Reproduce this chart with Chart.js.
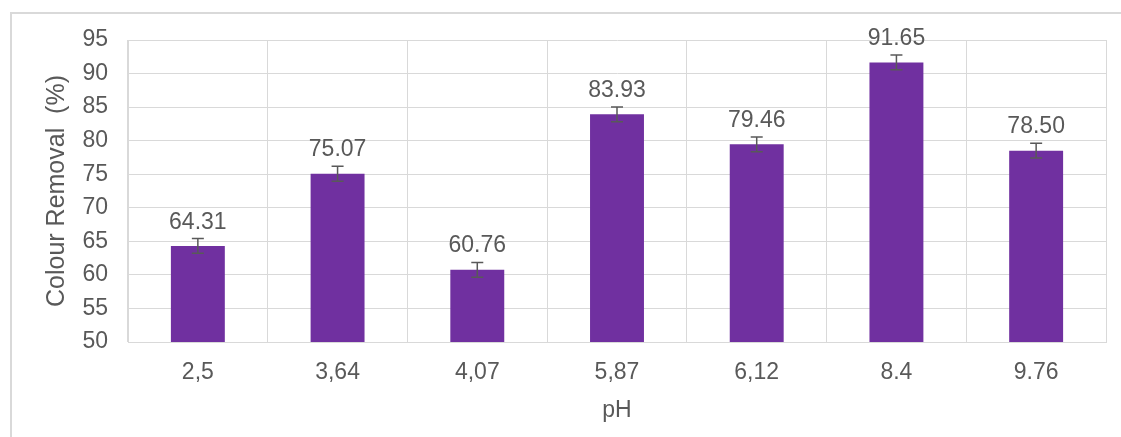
<!DOCTYPE html>
<html>
<head>
<meta charset="utf-8">
<script src="https://cdn.jsdelivr.net/npm/chart.js@4/dist/chart.umd.min.js"></script>
<style>
  html, body { margin: 0; padding: 0; background: #fff; overflow: hidden; }
  #wrap { position: relative; width: 1121px; height: 437px; }
  #frame { position: absolute; left: 10px; top: 12px; width: 1200px; height: 500px; border: 2px solid #d9d9d9; box-sizing: border-box; }
  #chart { position: absolute; left: 0; top: 0; }
</style>
</head>
<body>
<div id="wrap">
  <div id="frame"></div>
  <canvas id="chart" width="1121" height="437"></canvas>
</div>
<script>
// Data
const phLabels = ['2,5', '3,64', '4,07', '5,87', '6,12', '8.4', '9.76'];
const removal = [64.31, 75.07, 60.76, 83.93, 79.46, 91.65, 78.50];
const errors = [1.1, 1.1, 1.1, 1.1, 1.1, 1.1, 1.1];

const textColor = '#595959';
const gridColor = '#d9d9d9';
const fontFamily = '"Liberation Sans", Arial, sans-serif';
const fontSize = 23;

// Error bars + value labels drawn on top of the bars
const errorBarPlugin = {
    id: 'errorBars',
    afterDatasetsDraw(chart) {
        const ctx = chart.ctx;
        const meta = chart.getDatasetMeta(0);
        const y = chart.scales.y;
        ctx.save();
        meta.data.forEach(function(bar, i) {
            const x = bar.x;
            const top = y.getPixelForValue(removal[i] + errors[i]);
            const bottom = y.getPixelForValue(removal[i] - errors[i]);
            ctx.strokeStyle = '#595959';
            ctx.lineWidth = 1.5;
            ctx.beginPath();
            ctx.moveTo(x, top); ctx.lineTo(x, bottom);
            ctx.moveTo(x - 6, top); ctx.lineTo(x + 6, top);
            ctx.moveTo(x - 6, bottom); ctx.lineTo(x + 6, bottom);
            ctx.stroke();

            ctx.fillStyle = textColor;
            ctx.font = fontSize + 'px ' + fontFamily;
            ctx.textAlign = 'center';
            ctx.textBaseline = 'alphabetic';
            ctx.fillText(removal[i].toFixed(2), x, top - 10);
        });
        ctx.restore();
    }
};

const ctx = document.getElementById('chart').getContext('2d');
const removalChart = new Chart(ctx, {
    type: 'bar',
    data: {
        labels: phLabels,
        datasets: [{
            label: 'Colour Removal',
            data: removal,
            backgroundColor: '#7030A0',
            borderWidth: 0,
            barPercentage: 0.386,
            categoryPercentage: 1
        }]
    },
    options: {
        responsive: false,
        animation: false,
        layout: { padding: { left: 0, right: 15, top: 40, bottom: 0 } },
        plugins: {
            legend: { display: false },
            tooltip: { enabled: false }
        },
        scales: {
            x: {
                grid: { color: gridColor, drawTicks: false, offset: true },
                border: { color: gridColor },
                ticks: { color: textColor, font: { family: fontFamily, size: fontSize }, padding: 17 },
                title: {
                    display: true, text: 'pH', color: textColor,
                    font: { family: fontFamily, size: fontSize },
                    padding: { top: 0, bottom: 13 }
                },
                afterFit(scale) { scale.height = 95; }
            },
            y: {
                min: 50,
                max: 95,
                grid: { color: gridColor, drawTicks: false },
                border: { color: gridColor },
                ticks: { stepSize: 5, color: textColor, font: { family: fontFamily, size: fontSize }, padding: 20 },
                title: {
                    display: true, text: 'Colour Removal  (%)', color: textColor,
                    font: { family: fontFamily, size: 25 },
                    padding: { top: 42, bottom: 0 }
                },
                afterFit(scale) { scale.width = 128; }
            }
        }
    },
    plugins: [errorBarPlugin]
});
</script>
</body>
</html>
